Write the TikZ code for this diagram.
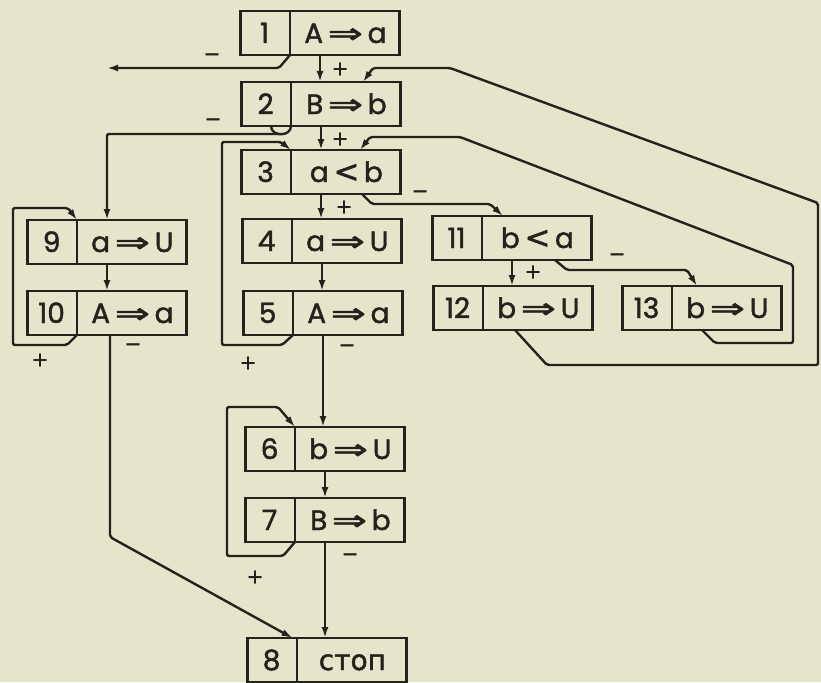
\documentclass[tikz,border=0pt]{standalone}
\usepackage{fontspec}
\usepackage{graphicx}
\setmainfont{Poppins}
\newfontfamily\boxfont{Poppins}[FakeBold=1.6]
\newfontfamily\symfont{DejaVu Sans}
\newfontfamily\symboldfont{DejaVu Sans}[FakeBold=1.6]
\usetikzlibrary{arrows.meta,calc}
\definecolor{paper}{RGB}{229,229,204}
\definecolor{ink}{RGB}{36,34,28}
\newcommand{\imp}{\,{\symboldfont\scalebox{1.5}[1]{⇒}}\,}
\newcommand{\lt}{\,{\symboldfont\scalebox{1.1}{<}}\,}
\newcommand{\blk}[2]{\makebox[48pt]{\raisebox{-10pt}{#1}}\vrule width 2.8pt height 22pt depth 22pt\makebox[108pt]{\raisebox{-10pt}{#2}}}
\begin{document}
\begin{tikzpicture}[x=1pt,y=-1pt,
  box/.style={draw=ink,line width=2.8pt,inner sep=0pt,outer sep=0pt,font=\boxfont\fontsize{28}{32}\selectfont,text=ink},
  con/.style={draw=ink,line width=2.4pt,rounded corners=2pt},
  arr/.style={con,-{Latex[length=11pt,width=7pt]}},
  sgn/.style={text=ink,font=\symboldfont\fontsize{20}{22}\selectfont,inner sep=0pt}]
\fill[paper] (0,0) rectangle (821,682);
\useasboundingbox (0,0) rectangle (821,682);
% boxes
\node[box] (b1) at (320,33) {\blk{1}{A\imp a}};
\node[box] (b2) at (321,104) {\blk{2}{B\imp b}};
\node[box] (b3) at (321,172) {\blk{3}{a\lt b}};
\node[box] (b4) at (322,241) {\blk{4}{a\imp U}};
\node[box] (b5) at (323,313) {\blk{5}{A\imp a}};
\node[box] (b6) at (325,449) {\blk{6}{b\imp U}};
\node[box] (b7) at (325,520) {\blk{7}{B\imp b}};
\node[box] (b8) at (327,660) {\blk{8}{{\symboldfont стоп}}};
\node[box] (b9) at (107,242) {\blk{9}{a\imp U}};
\node[box] (b10) at (107,313) {\blk{10}{A\imp a}};
\node[box] (b11) at (512,238) {\blk{11}{b\lt a}};
\node[box] (b12) at (513,308) {\blk{12}{b\imp U}};
\node[box] (b13) at (702,308) {\blk{13}{b\imp U}};
\foreach \i in {1,...,13}{
  \coordinate (b\i ds) at ($(b\i.south west)+(49.4,0)$);
  \coordinate (b\i dn) at ($(b\i.north west)+(49.4,0)$);
}
\coordinate (exitL) at (107,68);
% straight arrows
\draw[arr] (b1.south) -- (b1.south |- b2.north);
\draw[arr] (b2.south) -- (b2.south |- b3.north);
\draw[arr] (b3.south) -- (b3.south |- b4.north);
\draw[arr] (b4.south) -- (b4.south |- b5.north);
\draw[arr] (b5.south) -- (b5.south |- b6.north);
\draw[arr] (b6.south) -- (b6.south |- b7.north);
\draw[arr] (b7.south) -- (b7.south |- b8.north);
\draw[arr] (b9.south) -- (b9.south |- b10.north);
\draw[arr] (b11.south) -- (b11.south |- b12.north);
% box 1 minus exit
\draw[arr] (b1ds) -- ++(-11,13) -- (exitL);
% box 2 minus -> box 9
\draw[con] (b2ds) .. controls ($(b2ds)+(0,11)$) and ($(b2ds)+(-20,11)$) .. ($(b2ds)+(-20,0)$);
\coordinate (b2m) at ($(b2ds)+(-10,8)$);
\draw[arr] (b2m) -- (b9.north |- b2m) -- (b9.north);
% box 3 minus -> box 11
\coordinate (t11) at ($(b11.north)+(-9,0)$);
\draw[arr] ($(b3.south)+(41,0)$) -- ++(10,10) -- ($(t11)+(-13,-12)$) -- (t11);
% box 5 plus -> box 3
\draw[arr] (b5ds) -- ++(-11,10) -- ++(-60,0) -- ++(0,-203) -- ++(59,0) -- (b3dn);
% box 7 plus -> box 6
\draw[arr] (b7ds) -- ++(-12,14) -- ++(-56,0) -- ++(0,-149) -- ++(51,0) -- (b6dn);
% box 10 plus -> box 9
\draw[arr] (b10ds) -- ++(-10,10) -- ++(-54,0) -- ++(0,-137) -- ++(55,0) -- (b9dn);
% box 10 minus -> box 8
\draw[arr] ($(b10.south)+(3,0)$) -- ++(0,202) -- ($(b8.north west)+(45,0)$);
% box 11 minus -> box 13
\coordinate (t13) at ($(b13.north)+(-5,0)$);
\draw[arr] ($(b11.south)+(43,0)$) -- ++(12,10) -- ($(t13)+(-10,-16)$) -- (t13);
% box 12 -> box 2
\coordinate (t2) at ($(b2.north)+(42,0)$);
\draw[arr] ($(b12.south)+(2,0)$) -- ++(32,35) -- ++(271,0) -- ++(0,-162) -- ($(t2)+(87,-14)$) -- ($(t2)+(10,-14)$) -- (t2);
% box 13 -> box 3
\coordinate (t3) at ($(b3.north)+(39,0)$);
\draw[arr] (b13.south) -- ++(13,13) -- ++(78,0) -- ++(0,-78) -- ($(t3)+(100,-13)$) -- ($(t3)+(10,-13)$) -- (t3);
% signs
\node[sgn] (s1m) at (212,57) {−};
\node[sgn] (s1p) at (340,69) {+};
\node[sgn] (s2m) at (213,122) {−};
\node[sgn] (s2p) at (340,139) {+};
\node[sgn] (s3p) at (344,207) {+};
\node[sgn] (s3m) at (420,194) {−};
\node[sgn] (s5p) at (248,363) {+};
\node[sgn] (s5m) at (347,348) {−};
\node[sgn] (s10p) at (40,360) {+};
\node[sgn] (s10m) at (133,347) {−};
\node[sgn] (s11p) at (533,272) {+};
\node[sgn] (s11m) at (617,257) {−};
\node[sgn] (s7p) at (255,577) {+};
\node[sgn] (s7m) at (350,557) {−};
\end{tikzpicture}
\end{document}
